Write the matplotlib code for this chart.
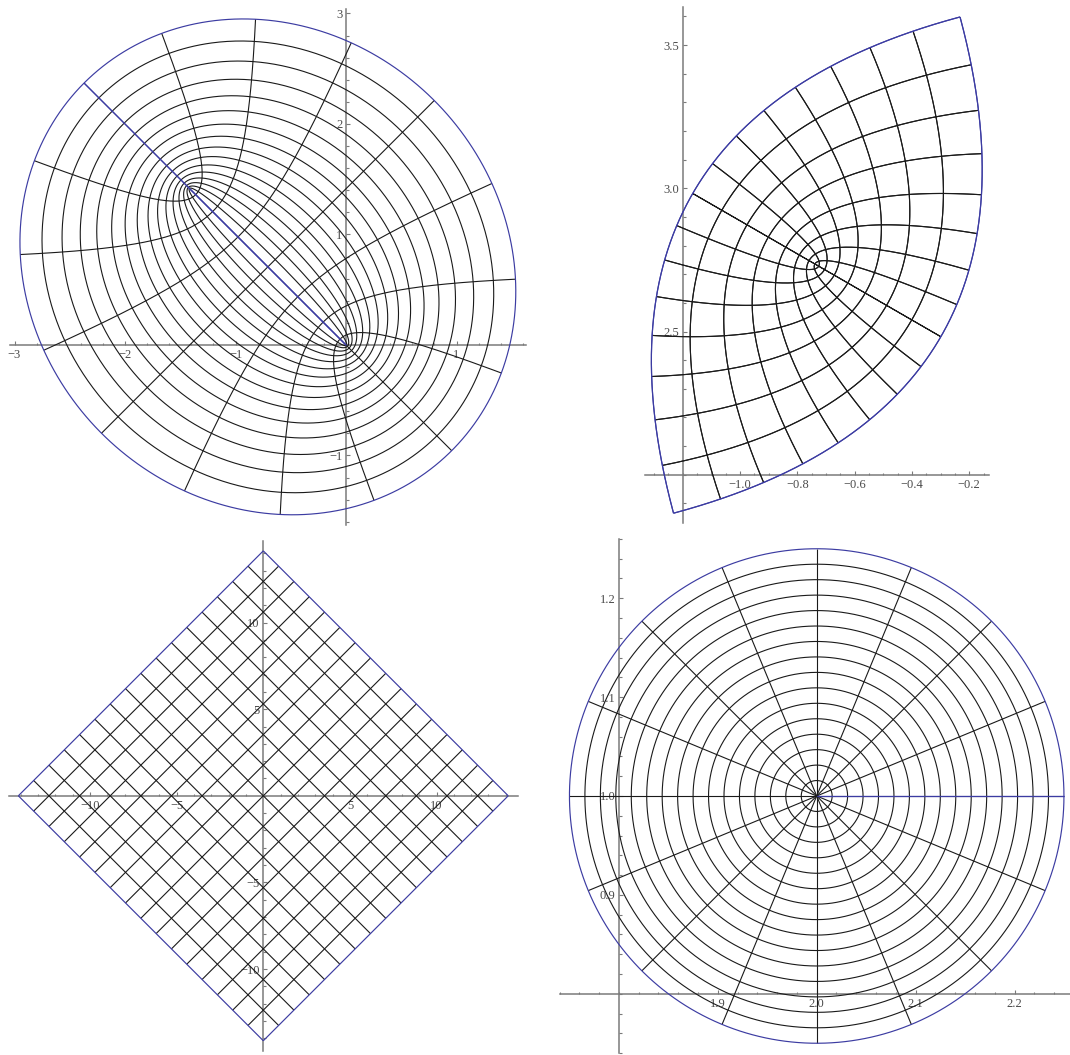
import numpy as np
import matplotlib
matplotlib.use("Agg")
import matplotlib.pyplot as plt
from matplotlib.ticker import FixedLocator, MultipleLocator, FuncFormatter

FIG_W, FIG_H, DPI = 1070, 1055, 100

MESH_COLOR = "#1a1a1a"
EDGE_COLOR = "#3c3ca2"
AXIS_COLOR = "#7a7a7a"
LABEL_COLOR = "#4a4a4a"

# ---- grid parameters -------------------------------------------------------
# top-left: elliptic coordinates, w = e^{i*rot} (cosh(u + i v) + shift)
ell_u_range = (0.0, 1.5)
ell_v_range = (0.0, 2 * np.pi)
ell_mesh = 15
ell_rotation_deg = 135.0
ell_shift = 1.0

# top-right: quadratic image of a square, w = c + s e^{i*rot} z^2
quad_x_range = (-1.0, 1.0)
quad_y_range = (-1.0, 1.0)
quad_mesh = 15
quad_center = (-0.732, 2.732)
quad_scale = 0.5
quad_rotation_deg = -30.0

# bottom-left: rotated Cartesian square
dia_x_range = (-10.0, 10.0)
dia_y_range = (-10.0, 10.0)
dia_mesh = 15
dia_rotation_deg = 45.0

# bottom-right: polar grid
pol_r_range = (0.0, 0.25)
pol_t_range = (0.0, 2 * np.pi)
pol_mesh = 15
pol_center = (2.0, 1.0)

# ---- axes, ticks and labels ------------------------------------------------
p1_origin = (0.0, 0.0)
p1_xlabels = [-3, -2, -1, 1]
p1_ylabels = [-1, 1, 2, 3]
p1_minor = 0.2

p2_origin = (-1.2, 2.0)
p2_xlabels = [-1.0, -0.8, -0.6, -0.4, -0.2]
p2_ylabels = [2.5, 3.0, 3.5]
p2_xminor, p2_yminor = 0.05, 0.1

p3_origin = (0.0, 0.0)
p3_xlabels = [-10, -5, 5, 10]
p3_ylabels = [-10, -5, 5, 10]
p3_minor = 1.0

p4_origin = (1.8, 0.8)
p4_xlabels = [1.9, 2.0, 2.1, 2.2]
p4_ylabels = [0.9, 1.0, 1.1, 1.2]
p4_minor = 0.02


def ell_map(u, v):
    return np.exp(1j * np.deg2rad(ell_rotation_deg)) * (np.cosh(u + 1j * v) + ell_shift)


def quad_map(x, y):
    c = quad_center[0] + 1j * quad_center[1]
    return c + quad_scale * np.exp(1j * np.deg2rad(quad_rotation_deg)) * (x + 1j * y) ** 2


def dia_map(x, y):
    return np.exp(1j * np.deg2rad(dia_rotation_deg)) * (x + 1j * y)


def pol_map(r, t):
    return (pol_center[0] + 1j * pol_center[1]) + r * np.exp(1j * t)


def grid_curves(f, a_range, b_range, mesh, n=700):
    """Return (mesh curves, boundary curves) of a parameter rectangle under f."""
    a0, a1 = a_range
    b0, b1 = b_range
    aa = np.linspace(a0, a1, n)
    bb = np.linspace(b0, b1, n)
    mesh_lines = []
    for k in range(1, mesh + 1):
        a = a0 + (a1 - a0) * k / (mesh + 1)
        mesh_lines.append(f(np.full_like(bb, a), bb))
        b = b0 + (b1 - b0) * k / (mesh + 1)
        mesh_lines.append(f(aa, np.full_like(aa, b)))
    edges = [f(np.full_like(bb, a0), bb), f(np.full_like(bb, a1), bb),
             f(aa, np.full_like(aa, b0)), f(aa, np.full_like(aa, b1))]
    return mesh_lines, edges


def padded_limits(curves):
    pts = np.concatenate(curves)
    xs, ys = pts.real, pts.imag
    px = 0.02 * (xs.max() - xs.min())
    py = 0.02 * (ys.max() - ys.min())
    return (xs.min() - px, xs.max() + px), (ys.min() - py, ys.max() + py)


def fmt_int(v, pos):
    return f"{v:.0f}".replace("-", "\u2212")


def fmt_one(v, pos):
    return f"{v:.1f}".replace("-", "\u2212")


fig = plt.figure(figsize=(FIG_W / DPI, FIG_H / DPI), dpi=DPI)


def panel(f, a_range, b_range, mesh, ref, ref_px, scale, origin,
          xlabels, ylabels, xminor, yminor, fmt):
    mesh_lines, edges = grid_curves(f, a_range, b_range, mesh)
    (x0, x1), (y0, y1) = padded_limits(mesh_lines + edges)
    left = ref_px[0] + (x0 - ref[0]) * scale
    right = ref_px[0] + (x1 - ref[0]) * scale
    top = ref_px[1] - (y1 - ref[1]) * scale
    bottom = ref_px[1] - (y0 - ref[1]) * scale
    ax = fig.add_axes([left / FIG_W, 1 - bottom / FIG_H,
                       (right - left) / FIG_W, (bottom - top) / FIG_H])
    ax.set_xlim(x0, x1)
    ax.set_ylim(y0, y1)
    ax.patch.set_visible(False)

    for w in mesh_lines:
        ax.plot(w.real, w.imag, color=MESH_COLOR, lw=0.8, zorder=3,
                solid_capstyle="butt")
    for w in edges:
        ax.plot(w.real, w.imag, color=EDGE_COLOR, lw=0.85, zorder=4,
                solid_capstyle="butt")

    for side in ("top", "right"):
        ax.spines[side].set_visible(False)
    ax.spines["left"].set_position(("data", origin[0]))
    ax.spines["bottom"].set_position(("data", origin[1]))
    for side in ("left", "bottom"):
        ax.spines[side].set_color(AXIS_COLOR)
        ax.spines[side].set_linewidth(1.1)
        ax.spines[side].set_zorder(0.5)
    ax.set_axisbelow(True)

    ax.xaxis.set_major_locator(FixedLocator(xlabels))
    ax.yaxis.set_major_locator(FixedLocator(ylabels))
    ax.xaxis.set_minor_locator(MultipleLocator(xminor))
    ax.yaxis.set_minor_locator(MultipleLocator(yminor))
    ax.xaxis.set_major_formatter(FuncFormatter(fmt))
    ax.yaxis.set_major_formatter(FuncFormatter(fmt))
    ax.tick_params(which="both", direction="in", color=AXIS_COLOR, width=0.8,
                   labelcolor=LABEL_COLOR, labelsize=9)
    ax.tick_params(which="major", length=3.2)
    ax.tick_params(which="minor", length=1.8)
    ax.tick_params(axis="x", which="major", pad=3.0)
    ax.tick_params(axis="y", which="major", pad=2.5)
    for lab in ax.get_xticklabels() + ax.get_yticklabels():
        lab.set_fontfamily("Liberation Serif")
    return ax


panel(ell_map, ell_u_range, ell_v_range, ell_mesh,
      ref=(0.0, 0.0), ref_px=(346.0, 345.0), scale=110.5, origin=p1_origin,
      xlabels=p1_xlabels, ylabels=p1_ylabels, xminor=p1_minor, yminor=p1_minor,
      fmt=fmt_int)

panel(quad_map, quad_x_range, quad_y_range, quad_mesh,
      ref=(-1.0, 3.0), ref_px=(740.0, 188.3), scale=286.5, origin=p2_origin,
      xlabels=p2_xlabels, ylabels=p2_ylabels, xminor=p2_xminor, yminor=p2_yminor,
      fmt=fmt_one)

panel(dia_map, dia_x_range, dia_y_range, dia_mesh,
      ref=(0.0, 0.0), ref_px=(263.3, 795.8), scale=17.32, origin=p3_origin,
      xlabels=p3_xlabels, ylabels=p3_ylabels, xminor=p3_minor, yminor=p3_minor,
      fmt=fmt_int)

panel(pol_map, pol_r_range, pol_t_range, pol_mesh,
      ref=(2.0, 1.0), ref_px=(816.7, 796.0), scale=989.0, origin=p4_origin,
      xlabels=p4_xlabels, ylabels=p4_ylabels, xminor=p4_minor, yminor=p4_minor,
      fmt=fmt_one)

fig.savefig("out.png", dpi=DPI, facecolor="white")
